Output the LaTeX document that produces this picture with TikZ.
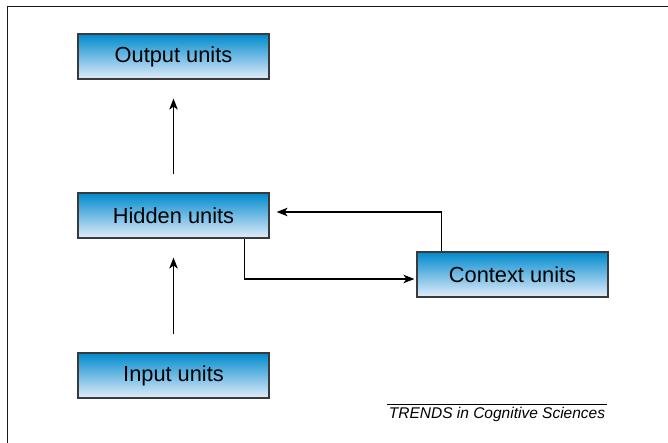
\documentclass[tikz,border=0pt]{standalone}
\usepackage{fontspec}
\setmainfont{Liberation Sans}
\usetikzlibrary{arrows.meta,calc}
\definecolor{boxtop}{RGB}{0,138,205}
\definecolor{boxbot}{RGB}{226,236,250}
\definecolor{boxedge}{RGB}{58,58,58}
\tikzset{
  unitbox/.style={rectangle, draw=boxedge, line width=1.2pt, top color=boxtop, bottom color=boxbot,
    minimum width=191pt, minimum height=45pt, inner sep=0pt,
    font=\fontsize{21.8}{24}\selectfont, text=black},
  arr/.style={line width=1.2pt, -{Stealth[length=11pt,width=8.5pt,inset=3pt]}},
  frameline/.style={line width=1pt, draw=black!90}
}
\begin{document}
\begin{tikzpicture}[x=1pt,y=-1pt]
\useasboundingbox (0,0) rectangle (668,443);
\draw[frameline] (7,443) -- (7,7) -- (668,7);
\node[unitbox] (output) at (173.5,56.5) {Output units};
\node[unitbox] (hidden) at (173.5,215.5) {Hidden units};
\node[unitbox] (input) at (173.5,375.5) {Input units};
\node[unitbox] (context) at (512.5,274.5) {Context units};
\draw[arr, shorten <=18pt, shorten >=19pt] (hidden.north) -- (output.south);
\draw[arr, shorten <=18pt, shorten >=19pt] (input.north) -- (hidden.south);
\draw[arr, shorten >=2pt] ([xshift=-25pt]hidden.south east) |- ([yshift=-4.5pt]context.west);
\draw[arr, shorten >=7pt] ([xshift=25pt]context.north west) |- ([yshift=3.5pt]hidden.east);
\node[anchor=base, font=\fontsize{15.5}{17}\selectfont\itshape] (credit) at (497,418) {TRENDS in Cognitive Sciences};
\coordinate (ruleL) at (387,404);
\coordinate (ruleR) at (607,404);
\draw[line width=0.8pt] (ruleL) -- (ruleR);
\end{tikzpicture}
\end{document}
